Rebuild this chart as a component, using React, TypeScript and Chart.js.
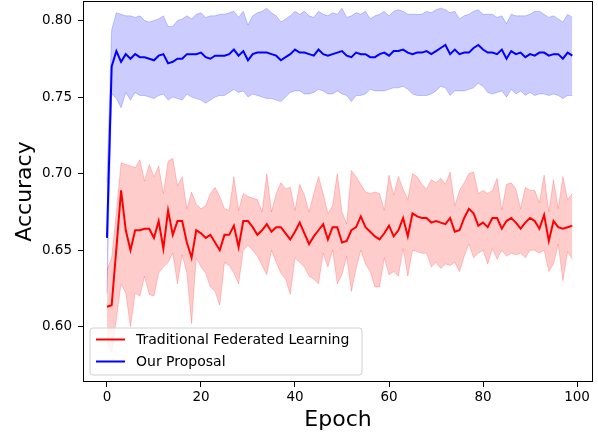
import React, { useEffect, useRef } from 'react';
import { Chart, registerables } from 'chart.js';

Chart.register(...registerables);

const epochs: number[] = Array.from({ length: 100 }, (_, i) => i);

const xTicks = [0, 20, 40, 60, 80, 100];
const yTicks = [0.6, 0.65, 0.7, 0.75, 0.8];

const seriesLabels = ['Traditional Federated Learning', 'Our Proposal'];

const blueMean = [
  0.658, 0.770, 0.780, 0.773, 0.778, 0.775, 0.778, 0.776, 0.776, 0.775,
  0.774, 0.777, 0.778, 0.772, 0.773, 0.775, 0.775, 0.778, 0.778, 0.778,
  0.779, 0.776, 0.775, 0.777, 0.777, 0.777, 0.778, 0.781, 0.777, 0.780,
  0.774, 0.778, 0.779, 0.779, 0.779, 0.778, 0.777, 0.774, 0.776, 0.778,
  0.781, 0.779, 0.779, 0.778, 0.777, 0.781, 0.778, 0.777, 0.778, 0.779,
  0.780, 0.777, 0.776, 0.779, 0.778, 0.778, 0.776, 0.776, 0.778, 0.779,
  0.777, 0.780, 0.780, 0.781, 0.779, 0.778, 0.779, 0.779, 0.780, 0.778,
  0.780, 0.782, 0.784, 0.778, 0.781, 0.778, 0.779, 0.779, 0.782, 0.784,
  0.781, 0.779, 0.779, 0.778, 0.781, 0.775, 0.780, 0.778, 0.779, 0.776,
  0.778, 0.777, 0.779, 0.779, 0.777, 0.778, 0.778, 0.775, 0.779, 0.777,
];

const blueUpper = [
  0.694, 0.794, 0.805, 0.804, 0.803, 0.803, 0.802, 0.803, 0.800, 0.799,
  0.800, 0.801, 0.803, 0.796, 0.796, 0.800, 0.801, 0.803, 0.801, 0.804,
  0.805, 0.802, 0.803, 0.803, 0.804, 0.804, 0.805, 0.806, 0.802, 0.806,
  0.797, 0.803, 0.805, 0.806, 0.808, 0.805, 0.803, 0.799, 0.801, 0.803,
  0.806, 0.804, 0.806, 0.803, 0.802, 0.806, 0.804, 0.803, 0.805, 0.804,
  0.808, 0.802, 0.803, 0.805, 0.804, 0.806, 0.801, 0.803, 0.804, 0.806,
  0.803, 0.806, 0.807, 0.806, 0.804, 0.804, 0.804, 0.804, 0.806, 0.805,
  0.807, 0.808, 0.807, 0.805, 0.806, 0.801, 0.803, 0.804, 0.806, 0.807,
  0.804, 0.804, 0.804, 0.802, 0.803, 0.798, 0.804, 0.803, 0.803, 0.803,
  0.804, 0.806, 0.806, 0.804, 0.802, 0.803, 0.801, 0.799, 0.804, 0.802,
];

const blueLower = [
  0.622, 0.752, 0.749, 0.743, 0.753, 0.748, 0.753, 0.751, 0.751, 0.750,
  0.749, 0.751, 0.752, 0.748, 0.750, 0.749, 0.748, 0.752, 0.750, 0.749,
  0.748, 0.746, 0.748, 0.750, 0.751, 0.751, 0.753, 0.755, 0.753, 0.754,
  0.750, 0.752, 0.751, 0.750, 0.749, 0.749, 0.748, 0.747, 0.750, 0.753,
  0.754, 0.754, 0.752, 0.752, 0.753, 0.755, 0.754, 0.752, 0.752, 0.754,
  0.752, 0.751, 0.747, 0.751, 0.751, 0.752, 0.755, 0.754, 0.754, 0.754,
  0.755, 0.756, 0.756, 0.757, 0.755, 0.752, 0.751, 0.751, 0.751, 0.752,
  0.754, 0.757, 0.756, 0.751, 0.754, 0.754, 0.754, 0.755, 0.756, 0.759,
  0.757, 0.753, 0.752, 0.753, 0.754, 0.750, 0.755, 0.752, 0.754, 0.751,
  0.753, 0.751, 0.752, 0.752, 0.751, 0.752, 0.751, 0.749, 0.751, 0.751,
];

const redMean = [
  0.613, 0.614, 0.651, 0.689, 0.663, 0.650, 0.663, 0.663, 0.664, 0.664,
  0.658, 0.669, 0.651, 0.676, 0.660, 0.669, 0.669, 0.655, 0.645, 0.663,
  0.661, 0.658, 0.660, 0.655, 0.650, 0.660, 0.660, 0.666, 0.652, 0.669,
  0.669, 0.665, 0.660, 0.663, 0.667, 0.662, 0.665, 0.665, 0.661, 0.657,
  0.662, 0.668, 0.661, 0.654, 0.659, 0.663, 0.667, 0.657, 0.665, 0.665,
  0.655, 0.656, 0.663, 0.665, 0.672, 0.665, 0.662, 0.659, 0.657, 0.661,
  0.666, 0.659, 0.663, 0.671, 0.659, 0.674, 0.672, 0.671, 0.671, 0.668,
  0.669, 0.668, 0.667, 0.671, 0.662, 0.663, 0.671, 0.677, 0.674, 0.666,
  0.668, 0.665, 0.671, 0.671, 0.664, 0.669, 0.671, 0.668, 0.664, 0.668,
  0.671, 0.669, 0.664, 0.673, 0.656, 0.669, 0.665, 0.664, 0.665, 0.666,
];

const redUpper = [
  0.637, 0.645, 0.675, 0.707, 0.706, 0.705, 0.704, 0.709, 0.695, 0.706,
  0.698, 0.705, 0.687, 0.708, 0.710, 0.692, 0.698, 0.677, 0.688, 0.680,
  0.677, 0.679, 0.687, 0.691, 0.685, 0.677, 0.676, 0.698, 0.676, 0.687,
  0.685, 0.684, 0.683, 0.675, 0.700, 0.675, 0.687, 0.694, 0.690, 0.691,
  0.676, 0.693, 0.686, 0.675, 0.687, 0.698, 0.687, 0.674, 0.679, 0.700,
  0.675, 0.667, 0.702, 0.698, 0.693, 0.688, 0.687, 0.688, 0.687, 0.676,
  0.699, 0.686, 0.698, 0.690, 0.683, 0.700, 0.698, 0.693, 0.690, 0.696,
  0.694, 0.697, 0.693, 0.701, 0.679, 0.689, 0.694, 0.700, 0.701, 0.687,
  0.689, 0.687, 0.689, 0.697, 0.676, 0.693, 0.694, 0.690, 0.677, 0.691,
  0.689, 0.689, 0.681, 0.699, 0.675, 0.696, 0.677, 0.698, 0.683, 0.687,
];

const redLower = [
  0.590, 0.583, 0.605, 0.628, 0.622, 0.600, 0.622, 0.620, 0.633, 0.621,
  0.620, 0.635, 0.639, 0.642, 0.648, 0.628, 0.647, 0.635, 0.602, 0.645,
  0.639, 0.635, 0.626, 0.623, 0.614, 0.642, 0.640, 0.635, 0.628, 0.650,
  0.653, 0.650, 0.646, 0.640, 0.634, 0.650, 0.642, 0.635, 0.631, 0.621,
  0.645, 0.642, 0.639, 0.633, 0.631, 0.628, 0.648, 0.639, 0.650, 0.628,
  0.634, 0.646, 0.623, 0.638, 0.650, 0.641, 0.636, 0.626, 0.626, 0.645,
  0.634, 0.636, 0.633, 0.651, 0.633, 0.650, 0.649, 0.648, 0.648, 0.639,
  0.642, 0.638, 0.641, 0.640, 0.642, 0.636, 0.646, 0.654, 0.645, 0.648,
  0.650, 0.641, 0.651, 0.644, 0.650, 0.646, 0.648, 0.647, 0.648, 0.645,
  0.650, 0.650, 0.648, 0.650, 0.636, 0.641, 0.654, 0.630, 0.649, 0.644,
];

const RED = '#ff0000';
const BLUE = '#0000ff';
const RED_BAND = 'rgba(255,0,0,0.2)';
const BLUE_BAND = 'rgba(0,0,255,0.2)';
const FONT = "'DejaVu Sans', sans-serif";

const pts = (vals: number[]) => epochs.map((e, i) => ({ x: e, y: vals[i] }));

const framePlugin = {
  id: 'frame',
  afterDraw(chart: any) {
    const { ctx, chartArea: a } = chart;
    ctx.save();
    ctx.strokeStyle = '#000';
    ctx.lineWidth = 1;
    const l = Math.round(a.left) + 0.5;
    const t = Math.round(a.top) + 0.5;
    const r = Math.round(a.right) - 0.5;
    const b = Math.round(a.bottom) - 0.5;
    ctx.strokeRect(l, t, r - l, b - t);
    ctx.restore();
  },
};

const legendPlugin = {
  id: 'mplLegend',
  afterDraw(chart: any) {
    const { ctx, chartArea: a } = chart;
    const bx = a.left + 7;
    const by = a.bottom - 54;
    const bw = 272;
    const bh = 47;
    ctx.save();
    ctx.beginPath();
    const rr = 3;
    ctx.moveTo(bx + rr, by);
    ctx.lineTo(bx + bw - rr, by);
    ctx.quadraticCurveTo(bx + bw, by, bx + bw, by + rr);
    ctx.lineTo(bx + bw, by + bh - rr);
    ctx.quadraticCurveTo(bx + bw, by + bh, bx + bw - rr, by + bh);
    ctx.lineTo(bx + rr, by + bh);
    ctx.quadraticCurveTo(bx, by + bh, bx, by + bh - rr);
    ctx.lineTo(bx, by + rr);
    ctx.quadraticCurveTo(bx, by, bx + rr, by);
    ctx.closePath();
    ctx.fillStyle = 'rgba(255,255,255,0.8)';
    ctx.fill();
    ctx.strokeStyle = '#d0d0d0';
    ctx.lineWidth = 1;
    ctx.stroke();
    const colors = [RED, BLUE];
    seriesLabels.forEach((lab, i) => {
      const y = by + 11.5 + i * 22;
      ctx.beginPath();
      ctx.strokeStyle = colors[i];
      ctx.lineWidth = 2;
      ctx.moveTo(bx + 6, y);
      ctx.lineTo(bx + 35, y);
      ctx.stroke();
      ctx.fillStyle = '#000';
      ctx.font = `14px ${FONT}`;
      ctx.textBaseline = 'middle';
      ctx.textAlign = 'left';
      ctx.fillText(lab, bx + 46, y + 0.5);
    });
    ctx.restore();
  },
};

export default function App() {
  const ref = useRef<HTMLCanvasElement | null>(null);

  useEffect(() => {
    if (!ref.current) return;
    Chart.defaults.font.family = FONT;
    const chart = new Chart(ref.current, {
      type: 'line',
      data: {
        datasets: [
          {
            label: seriesLabels[0],
            data: pts(redMean),
            borderColor: RED,
            borderWidth: 2,
            pointRadius: 0,
            fill: false,
            tension: 0,
          },
          {
            label: seriesLabels[1],
            data: pts(blueMean),
            borderColor: BLUE,
            borderWidth: 2,
            pointRadius: 0,
            fill: false,
            tension: 0,
          },
          {
            label: 'red upper',
            data: pts(redUpper),
            borderColor: RED_BAND,
            backgroundColor: RED_BAND,
            borderWidth: 1,
            pointRadius: 0,
            fill: '+1',
            tension: 0,
          },
          {
            label: 'red lower',
            data: pts(redLower),
            borderColor: RED_BAND,
            borderWidth: 1,
            pointRadius: 0,
            fill: false,
            tension: 0,
          },
          {
            label: 'blue upper',
            data: pts(blueUpper),
            borderColor: BLUE_BAND,
            backgroundColor: BLUE_BAND,
            borderWidth: 1,
            pointRadius: 0,
            fill: '+1',
            tension: 0,
          },
          {
            label: 'blue lower',
            data: pts(blueLower),
            borderColor: BLUE_BAND,
            borderWidth: 1,
            pointRadius: 0,
            fill: false,
            tension: 0,
          },
        ],
      },
      options: {
        animation: false,
        responsive: true,
        maintainAspectRatio: false,
        layout: { padding: { left: 0, right: 5, top: 1, bottom: 0 } },
        plugins: {
          legend: { display: false },
          tooltip: { enabled: false },
        },
        scales: {
          x: {
            type: 'linear',
            min: -5.1,
            max: 103.4,
            afterBuildTicks: (axis: any) => {
              axis.ticks = xTicks.map((v) => ({ value: v }));
            },
            afterFit: (axis: any) => {
              axis.height = 53;
              axis.paddingLeft = 0;
              axis.paddingRight = 0;
              axis.paddingTop = 0;
              axis.paddingBottom = 0;
            },
            ticks: {
              font: { size: 13.5 },
              color: '#000',
              padding: 2,
              maxRotation: 0,
              callback: (v: any) => String(v),
            },
            grid: {
              display: true,
              drawOnChartArea: false,
              drawTicks: true,
              tickLength: 5,
              color: '#000',
            },
            border: { display: false },
            title: {
              display: true,
              text: 'Epoch',
              font: { size: 22 },
              color: '#000',
              padding: { top: 0, bottom: 2 },
            },
          },
          y: {
            type: 'linear',
            min: 0.5639,
            max: 0.8127,
            afterBuildTicks: (axis: any) => {
              axis.ticks = yTicks.map((v) => ({ value: v }));
            },
            afterFit: (axis: any) => {
              axis.width = 83;
              axis.paddingLeft = 0;
              axis.paddingRight = 0;
              axis.paddingTop = 0;
              axis.paddingBottom = 0;
            },
            ticks: {
              font: { size: 13.5 },
              color: '#000',
              padding: 6,
              callback: (v: any) => Number(v).toFixed(2),
            },
            grid: {
              display: true,
              drawOnChartArea: false,
              drawTicks: true,
              tickLength: 5,
              color: '#000',
            },
            border: { display: false },
            title: {
              display: true,
              text: 'Accuracy',
              font: { size: 22 },
              color: '#000',
              padding: { top: 12, bottom: 0 },
            },
          },
        },
      },
      plugins: [framePlugin, legendPlugin],
    });
    return () => chart.destroy();
  }, []);

  return (
    <div style={{ position: 'fixed', left: 0, top: 0, width: 598, height: 435, background: '#fff' }}>
      <canvas ref={ref} style={{ display: 'block' }} />
    </div>
  );
}
